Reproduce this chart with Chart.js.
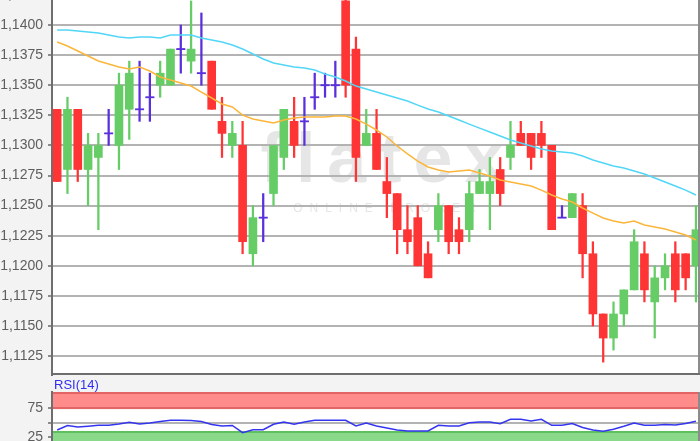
<!DOCTYPE html>
<html>
<head>
<meta charset="utf-8">
<script src="https://cdn.jsdelivr.net/npm/chart.js@4.4.0/dist/chart.umd.min.js"></script>
<style>
    html, body { margin: 0; padding: 0; width: 700px; height: 441px; overflow: hidden; background: #f3f3f3; position: relative; }
    #main { position: absolute; left: 0; top: -20px; }
    #rsi { position: absolute; left: 0; top: 372px; }
</style>
</head>
<body>
<canvas id="main" width="700" height="397"></canvas>
<canvas id="rsi" width="700" height="100"></canvas>
<script>
const opens  = [1.1330,1.1280,1.1330,1.1280,1.1290,1.1310,1.1300,1.1330,1.1330,1.1340,1.1350,1.1350,1.1380,1.1370,1.1360,1.1370,1.1320,1.1300,1.1300,1.1210,1.1240,1.1260,1.1290,1.1320,1.1320,1.1340,1.1350,1.1350,1.1420,1.1380,1.1300,1.1310,1.1270,1.1260,1.1230,1.1240,1.1210,1.1230,1.1250,1.1230,1.1230,1.1260,1.1260,1.1280,1.1290,1.1310,1.1310,1.1310,1.1300,1.1240,1.1240,1.1250,1.1210,1.1160,1.1140,1.1160,1.1180,1.1210,1.1170,1.1190,1.1210,1.1210,1.1200];
const highs  = [1.1330,1.1340,1.1330,1.1310,1.1310,1.1330,1.1360,1.1370,1.1370,1.1360,1.1370,1.1380,1.1400,1.1420,1.1410,1.1370,1.1340,1.1320,1.1320,1.1250,1.1260,1.1300,1.1330,1.1340,1.1340,1.1360,1.1360,1.1370,1.1422,1.1390,1.1330,1.1330,1.1290,1.1260,1.1250,1.1250,1.1220,1.1260,1.1250,1.1240,1.1270,1.1280,1.1290,1.1290,1.1320,1.1320,1.1310,1.1320,1.1300,1.1250,1.1260,1.1260,1.1220,1.1160,1.1170,1.1180,1.1230,1.1220,1.1200,1.1210,1.1220,1.1210,1.1250];
const lows   = [1.1270,1.1260,1.1270,1.1250,1.1230,1.1300,1.1280,1.1305,1.1320,1.1320,1.1340,1.1350,1.1360,1.1360,1.1350,1.1330,1.1290,1.1290,1.1210,1.1200,1.1220,1.1250,1.1280,1.1290,1.1300,1.1330,1.1340,1.1340,1.1340,1.1270,1.1300,1.1280,1.1240,1.1210,1.1210,1.1200,1.1190,1.1220,1.1210,1.1210,1.1220,1.1260,1.1230,1.1250,1.1280,1.1300,1.1280,1.1290,1.1230,1.1240,1.1240,1.1190,1.1150,1.1120,1.1130,1.1150,1.1180,1.1170,1.1140,1.1180,1.1170,1.1180,1.1170];
const closes = [1.1270,1.1330,1.1280,1.1300,1.1300,1.1310,1.1350,1.1360,1.1330,1.1340,1.1360,1.1380,1.1380,1.1380,1.1360,1.1330,1.1310,1.1310,1.1220,1.1240,1.1240,1.1300,1.1330,1.1300,1.1320,1.1340,1.1350,1.1350,1.1350,1.1290,1.1310,1.1280,1.1260,1.1230,1.1220,1.1200,1.1190,1.1250,1.1220,1.1220,1.1260,1.1270,1.1270,1.1260,1.1300,1.1300,1.1290,1.1300,1.1230,1.1240,1.1260,1.1210,1.1160,1.1140,1.1160,1.1180,1.1220,1.1180,1.1190,1.1200,1.1180,1.1190,1.1230];

// moving averages (cyan = slow, orange = fast)
const maSlow = [1.13958,1.13958,1.13950,1.13942,1.13934,1.13917,1.13900,1.13892,1.13900,1.13900,1.13892,1.13917,1.13917,1.13917,1.13892,1.13875,1.13859,1.13834,1.13801,1.13759,1.13718,1.13684,1.13668,1.13651,1.13643,1.13626,1.13593,1.13568,1.13535,1.13493,1.13468,1.13443,1.13419,1.13394,1.13369,1.13335,1.13302,1.13277,1.13244,1.13211,1.13177,1.13144,1.13111,1.13078,1.13045,1.13020,1.12995,1.12970,1.12953,1.12945,1.12937,1.12912,1.12879,1.12854,1.12829,1.12812,1.12787,1.12762,1.12729,1.12696,1.12663,1.12629,1.12588];
const maFast = [1.13859,1.13826,1.13784,1.13743,1.13701,1.13676,1.13651,1.13635,1.13651,1.13618,1.13568,1.13543,1.13518,1.13493,1.13443,1.13394,1.13344,1.13319,1.13252,1.13219,1.13203,1.13186,1.13211,1.13228,1.13236,1.13236,1.13236,1.13244,1.13244,1.13219,1.13177,1.13128,1.13070,1.12995,1.12929,1.12870,1.12821,1.12796,1.12779,1.12787,1.12796,1.12771,1.12746,1.12713,1.12696,1.12679,1.12663,1.12629,1.12588,1.12555,1.12530,1.12480,1.12438,1.12397,1.12372,1.12355,1.12372,1.12339,1.12322,1.12306,1.12281,1.12256,1.12214];

const rsi = [37.3,45.2,42.5,43.8,45.5,45.5,47.8,51,47.8,49.6,52.2,54.3,54.3,53.9,52.2,46.9,44.3,45.2,32.5,37.8,37.8,47.3,51.3,47.3,51.3,54.3,54.3,54.3,54.3,44.3,49.6,44.3,40.8,37.3,35.5,35.5,35.5,45.5,44.3,44.3,50.1,51.3,51.3,48.3,56,56,53.1,56,45.5,45.5,48.7,41.7,37.3,35,38.5,43.8,49.6,45.5,45.5,46.9,46,48.7,52.5];

const priceTicks = [1.1125,1.1150,1.1175,1.1200,1.1225,1.1250,1.1275,1.1300,1.1325,1.1350,1.1375,1.1400,1.1425];
const rsiTicks = [25, 50, 75];
const rsiLabel = 'RSI(14)';

const RED = '#ff3434';
const GREEN = '#66cc66';
const BLUE = '#5a2fdc';

const idx = opens.map((o, i) => i);
const colors = idx.map(i => closes[i] > opens[i] ? GREEN : (closes[i] < opens[i] ? RED : BLUE));
const dojis = idx.filter(i => closes[i] === opens[i]).map(i => ({x: i, y: opens[i]}));

const xScale = { type: 'linear', min: -0.5, max: 62.2, offset: false, display: false };
const labelFont = { family: '"Liberation Sans", Arial, sans-serif', size: 14 };

const chartBackground = {
    id: 'chartBackground',
    beforeDraw(chart, args, options) {
        const {ctx, chartArea} = chart;
        ctx.save();
        ctx.fillStyle = '#ffffff';
        ctx.fillRect(chartArea.left, chartArea.top, chartArea.right - chartArea.left, chartArea.bottom - chartArea.top);
        if (options.watermark) {
            ctx.fillStyle = '#e6e6e6';
            ctx.textAlign = 'center';
            ctx.textBaseline = 'alphabetic';
            ctx.font = 'bold 70px "Liberation Sans", Arial, sans-serif';
            ctx.letterSpacing = '12px';
            ctx.fillText('flatex', 388, 202);
            ctx.font = '12px "Liberation Sans", Arial, sans-serif';
            ctx.letterSpacing = '7px';
            ctx.fillText('ONLINE BROKER', 388, 232);
        }
        if (options.bands) {
            const y = chart.scales.y;
            const top74 = y.getPixelForValue(74);
            const g35 = y.getPixelForValue(35.5);
            const w = chartArea.right - chartArea.left;
            ctx.fillStyle = '#ff8b8b';
            ctx.fillRect(chartArea.left, chartArea.top, w, top74 - chartArea.top);
            ctx.fillStyle = '#e26464';
            ctx.fillRect(chartArea.left, chartArea.top, w, 2);
            ctx.fillRect(chartArea.left, top74 - 2, w, 2);
            ctx.fillStyle = '#8ad88a';
            ctx.fillRect(chartArea.left, g35, w, chartArea.bottom - g35);
            ctx.fillStyle = '#5fbf5f';
            ctx.fillRect(chartArea.left, g35, w, 2);
        }
        ctx.restore();
    },
    afterDraw(chart, args, options) {
        const {ctx, chartArea} = chart;
        ctx.save();
        ctx.fillStyle = '#8c8c8c';
        ctx.fillRect(chartArea.right, chartArea.top, 2, chartArea.bottom - chartArea.top);
        if (options.bottomLine) {
            ctx.fillStyle = '#6e6e6e';
            ctx.fillRect(chartArea.left - 1, chartArea.bottom - 2, chartArea.right - chartArea.left + 3, 2);
        }
        if (options.title) {
            ctx.fillStyle = '#2f2ff5';
            ctx.font = '13px "Liberation Sans", Arial, sans-serif';
            ctx.textBaseline = 'middle';
            ctx.fillText(options.title, 54, 13.5);
        }
        ctx.restore();
    }
};

new Chart(document.getElementById('main'), {
    type: 'bar',
    data: {
        datasets: [
            {
                type: 'line',
                data: idx.map(i => ({x: i, y: maFast[i]})),
                borderColor: '#fbb63a',
                borderWidth: 1.5,
                pointRadius: 0,
                order: 1
            },
            {
                type: 'line',
                data: idx.map(i => ({x: i, y: maSlow[i]})),
                borderColor: '#52d6f7',
                borderWidth: 1.5,
                pointRadius: 0,
                order: 2
            },
            {
                type: 'scatter',
                data: dojis,
                pointStyle: 'line',
                pointRadius: 4.5,
                pointHoverRadius: 4.5,
                borderColor: BLUE,
                borderWidth: 1.8,
                order: 3
            },
            {
                data: idx.map(i => ({x: i, y: [opens[i], closes[i]]})),
                backgroundColor: colors,
                barThickness: 8,
                grouped: false,
                order: 4
            },
            {
                data: idx.map(i => ({x: i, y: [lows[i], highs[i]]})),
                backgroundColor: colors,
                barThickness: 1.6,
                grouped: false,
                order: 5
            }
        ]
    },
    options: {
        responsive: false,
        animation: false,
        layout: { autoPadding: false, padding: { top: 0, bottom: 2, left: 0, right: 2 } },
        plugins: {
            legend: { display: false },
            tooltip: { enabled: false },
            chartBackground: { watermark: true, bottomLine: true }
        },
        scales: {
            x: xScale,
            y: {
                min: 1.11093,
                max: 1.14374,
                afterBuildTicks: s => { s.ticks = priceTicks.map(v => ({value: v})); },
                afterFit: s => { s.width = 52; s.paddingTop = 0; s.paddingBottom = 0; },
                ticks: {
                    callback: v => v.toFixed(4).replace('.', ','),
                    color: '#5e5e5e',
                    font: labelFont,
                    padding: 5
                },
                grid: { color: '#b3b3b3', lineWidth: 2, tickLength: 4, tickColor: '#8c8c8c' },
                border: { color: '#6e6e6e', width: 2 }
            }
        }
    },
    plugins: [chartBackground]
});

new Chart(document.getElementById('rsi'), {
    type: 'line',
    data: {
        datasets: [{
            data: idx.map(i => ({x: i, y: rsi[i]})),
            borderColor: '#3535f0',
            borderWidth: 1.5,
            pointRadius: 0
        }]
    },
    options: {
        responsive: false,
        animation: false,
        layout: { autoPadding: false, padding: { top: 20, bottom: 12, left: 0, right: 2 } },
        plugins: {
            legend: { display: false },
            tooltip: { enabled: false },
            chartBackground: { bands: true, title: rsiLabel }
        },
        scales: {
            x: xScale,
            y: {
                min: -15.4,
                max: 103.9,
                afterBuildTicks: s => { s.ticks = rsiTicks.map(v => ({value: v})); },
                afterFit: s => { s.width = 52; s.paddingTop = 0; s.paddingBottom = 0; },
                ticks: {
                    callback: v => v === 50 ? '' : String(v),
                    color: '#5e5e5e',
                    font: labelFont,
                    padding: 5
                },
                grid: {
                    color: c => c.tick && c.tick.value === 50 ? '#b3b3b3' : 'rgba(0,0,0,0)',
                    lineWidth: 2,
                    tickLength: 4,
                    tickColor: '#8c8c8c'
                },
                border: { color: '#6e6e6e', width: 2 }
            }
        }
    },
    plugins: [chartBackground]
});
</script>
</body>
</html>
